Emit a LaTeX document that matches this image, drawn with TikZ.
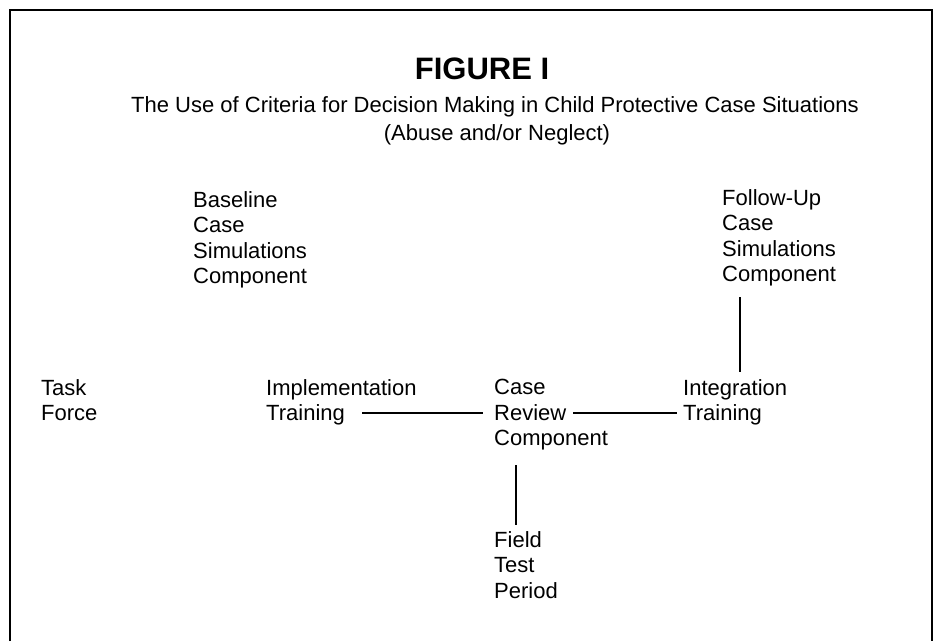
\documentclass[tikz,border=0pt]{standalone}
\usepackage{fontspec}
\setmainfont{Liberation Sans}
\begin{document}
\begin{tikzpicture}[x=1pt,y=-1pt,
  lbl/.style={anchor=north west, inner sep=0pt, align=left, font=\fontsize{22}{25.5}\selectfont},
  ttl/.style={anchor=base, inner sep=0pt, font=\fontsize{22}{25.5}\selectfont},
  conn/.style={line width=1.5pt},
  frame/.style={line width=1.6pt}]
\useasboundingbox (0,0) rectangle (938,641);
\coordinate (bl) at (10,641);
\coordinate (tl) at (10,10);
\coordinate (tr) at (932,10);
\coordinate (br) at (932,641);
\draw[frame] (bl) -- (tl) -- (tr) -- (br);

\node[anchor=base, inner sep=0pt, font=\fontsize{31}{33}\selectfont\bfseries] (fig) at (482,79) {FIGURE I};
\node[ttl] (t1) at (495,112) {The Use of Criteria for Decision Making in Child Protective Case Situations};
\node[ttl] (t2) at (497,140) {(Abuse and/or Neglect)};

\node[lbl] (base) at (193,191) {Baseline\\Case\\Simulations\\Component};
\node[lbl] (follow) at (722,189) {Follow-Up\\Case\\Simulations\\Component};
\node[lbl] (task) at (41,379) {Task\\Force};
\node[lbl] (impl) at (266,379) {Implementation\\Training};
\node[lbl] (review) at (494,379) {Case\\Review\\Component};
\node[lbl] (integ) at (683,379) {Integration\\Training};
\node[lbl] (field) at (494,531) {Field\\Test\\Period};

\coordinate (h1a) at (362,413);
\coordinate (h1b) at (483,413);
\coordinate (h2a) at (573,413);
\coordinate (h2b) at (677,413);
\coordinate (v1a) at (740,297);
\coordinate (v1b) at (740,372);
\coordinate (v2a) at (516,465);
\coordinate (v2b) at (516,525);
\draw[conn] (h1a) -- (h1b);
\draw[conn] (h2a) -- (h2b);
\draw[conn] (v1a) -- (v1b);
\draw[conn] (v2a) -- (v2b);
\end{tikzpicture}
\end{document}
